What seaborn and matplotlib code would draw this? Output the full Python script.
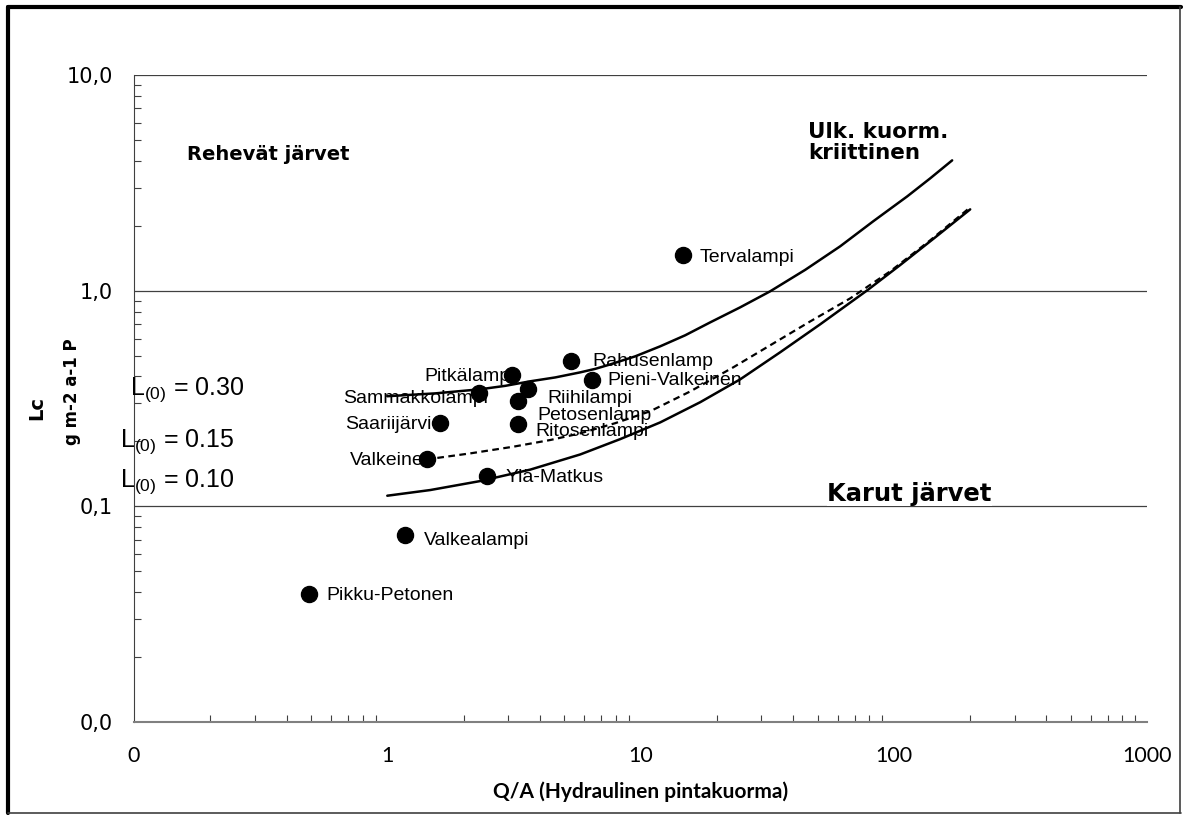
import matplotlib
matplotlib.use("Agg")
import matplotlib.pyplot as plt
import matplotlib.ticker as mticker
from matplotlib.lines import Line2D
import seaborn as sns
import pandas as pd

# lake observations
lakes = ["Tervalampi", "Rahusenlamp", "Pieni-Valkeinen", "Pitkälampi", "Sammakkolampi",
         "Riihilampi", "Petosenlamp", "Ritosenlampi", "Saariijärvi", "Valkeinen",
         "Ylä-Matkus", "Valkealampi", "Pikku-Petonen"]
qa = [14.7, 5.33, 6.45, 3.12, 2.31, 3.60, 3.29, 3.29, 1.62, 1.43, 2.48, 1.18, 0.492]
lc = [1.46, 0.47, 0.384, 0.405, 0.334, 0.349, 0.307, 0.240, 0.243, 0.165, 0.138, 0.0733, 0.0391]

# critical loading curves
curve_qa_030 = [1.0, 1.547, 2.33, 2.924, 3.67, 4.606, 5.78, 6.63, 7.59, 9.53, 11.96, 15.01,
                18.85, 24.75, 32.5, 44.7, 61.4, 82.9, 113, 139.2, 170]
curve_lc_030 = [0.324, 0.334, 0.349, 0.362, 0.380, 0.396, 0.418, 0.434, 0.455, 0.496, 0.552,
                0.621, 0.713, 0.837, 0.993, 1.249, 1.605, 2.096, 2.736, 3.316, 4.019]
curve_qa_015 = [1.426, 2.127, 3.145, 4.401, 5.78, 7.945, 10.92, 15.71, 23.23, 32.5, 46.77,
                67.29, 96.8, 139.2, 200.3]
curve_lc_015 = [0.165, 0.176, 0.189, 0.203, 0.218, 0.243, 0.276, 0.341, 0.441, 0.558, 0.720,
                0.921, 1.229, 1.711, 2.433]
curve_qa_010 = [1.0, 1.478, 2.33, 3.67, 5.78, 8.317, 11.96, 17.21, 24.75, 35.6, 51.2, 78.5,
                105.6, 145.7, 200.3]
curve_lc_010 = [0.112, 0.119, 0.131, 0.148, 0.174, 0.205, 0.245, 0.304, 0.388, 0.518, 0.698,
                1.003, 1.310, 1.766, 2.382]

x_ticks = [0.1, 1, 10, 100, 1000]
x_ticklabels = ["0", "1", "10", "100", "1000"]
y_ticks = [0.01, 0.1, 1, 10]
y_ticklabels = ["0,0", "0,1", "1,0", "10,0"]

sns.set_style("white")
plt.rcParams["font.family"] = ["DejaVu Sans"]
plt.rcParams["text.color"] = "black"
plt.rcParams["axes.labelcolor"] = "black"
plt.rcParams["xtick.color"] = "black"
plt.rcParams["ytick.color"] = "black"
plt.rcParams["mathtext.fontset"] = "custom"
plt.rcParams["mathtext.rm"] = "Liberation Sans"
plt.rcParams["mathtext.default"] = "regular"

fig = plt.figure(figsize=(11.83, 8.15), dpi=100)
ax = fig.add_axes([0.1133, 0.1141, 0.9696 - 0.1133, 0.908 - 0.1141])
ax.set_xscale("log")
ax.set_yscale("log")
ax.set_xlim(0.1, 1000)
ax.set_ylim(0.01, 10)

for yv in y_ticks:
    ax.axhline(yv, color="#404040", lw=0.9, zorder=0)

df = pd.DataFrame({"lake": lakes, "qa": qa, "lc": lc})
c030 = pd.DataFrame({"qa": curve_qa_030, "lc": curve_lc_030})
c015 = pd.DataFrame({"qa": curve_qa_015, "lc": curve_lc_015})
c010 = pd.DataFrame({"qa": curve_qa_010, "lc": curve_lc_010})

sns.lineplot(data=c030, x="qa", y="lc", ax=ax, color="black", lw=1.8, sort=False, estimator=None)
sns.lineplot(data=c010, x="qa", y="lc", ax=ax, color="black", lw=1.8, sort=False, estimator=None)
sns.lineplot(data=c015, x="qa", y="lc", ax=ax, color="black", lw=1.6, sort=False, estimator=None,
             linestyle=(0, (3, 2)))
sns.scatterplot(data=df, x="qa", y="lc", ax=ax, color="black", s=135, edgecolor="black", zorder=5)

# label offsets in points (dx, dy, ha)
offsets = {
    "Tervalampi": (12, -2, "left"),
    "Rahusenlamp": (15, 0, "left"),
    "Pieni-Valkeinen": (11, 0, "left"),
    "Pitkälampi": (2, -1, "right"),
    "Sammakkolampi": (6, -4, "right"),
    "Riihilampi": (14, -7, "left"),
    "Petosenlamp": (14, -10, "left"),
    "Ritosenlampi": (12, -5, "left"),
    "Saariijärvi": (-6, -1, "right"),
    "Valkeinen": (6, -1, "right"),
    "Ylä-Matkus": (13, -1, "left"),
    "Valkealampi": (13, -4, "left"),
    "Pikku-Petonen": (12, -1, "left"),
}
for name, x, y in zip(lakes, qa, lc):
    dx, dy, ha = offsets[name]
    ax.annotate(name, (x, y), xytext=(dx, dy), textcoords="offset points",
                ha=ha, va="center", fontsize=14, family="Liberation Sans", zorder=4)

ax.set_xticks(x_ticks)
ax.set_xticklabels(x_ticklabels, family="Lato", fontsize=15.5)
ax.set_yticks(y_ticks)
ax.set_yticklabels(y_ticklabels, fontsize=15)
ax.xaxis.set_minor_locator(mticker.LogLocator(base=10, subs=range(2, 10)))
ax.yaxis.set_minor_locator(mticker.LogLocator(base=10, subs=range(2, 10)))
ax.xaxis.set_minor_formatter(mticker.NullFormatter())
ax.yaxis.set_minor_formatter(mticker.NullFormatter())
ax.tick_params(which="major", direction="inout", length=9, width=1, color="#404040")
ax.tick_params(which="minor", direction="in", length=5, width=0.8, color="#404040",
               left=True, bottom=True)
ax.tick_params(axis="x", which="major", pad=13)
ax.tick_params(axis="y", which="major", pad=10.5)

for side in ["top", "right"]:
    ax.spines[side].set_visible(False)
ax.spines["left"].set_color("#404040")
ax.spines["bottom"].set_color("#808080")
ax.spines["bottom"].set_linewidth(1.5)

ax.set_xlabel("Q/A (Hydraulinen pintakuorma)", family="Lato", fontsize=15, fontweight="bold",
              labelpad=11)
ax.set_ylabel("")
fig.text(0.031, 0.50, "Lc", rotation=90, fontsize=14, fontweight="bold", ha="center", va="center")
fig.text(0.061, 0.519, "g m-2 a-1 P", rotation=90, fontsize=12, fontweight="bold",
         ha="center", va="center")

ax.text(0.339, 4.29, "Rehevät järvet", fontsize=14, fontweight="bold", ha="center", va="center")
ax.text(45.9, 4.87, "Ulk. kuorm.\nkriittinen", fontsize=15.5, fontweight="bold", ha="left",
        va="center", linespacing=1.1)
ax.text(54.6, 0.1, "Karut järvet", fontsize=17.5, fontweight="bold", ha="left", va="bottom",
        bbox=dict(facecolor="white", edgecolor="none", pad=0))

ax.text(0.0967, 0.349, r"L$_{(0)}$ = 0.30", fontsize=18, family="Liberation Sans",
        ha="left", va="center", clip_on=False)
ax.text(0.0883, 0.200, r"L$_{(0)}$ = 0.15", fontsize=18, family="Liberation Sans",
        ha="left", va="center", clip_on=False)
ax.text(0.0883, 0.130, r"L$_{(0)}$ = 0.10", fontsize=18, family="Liberation Sans",
        ha="left", va="center", clip_on=False)

# outer frame
fig.add_artist(Line2D([0.0065, 0.0065], [0.002, 0.992], color="black", lw=3, transform=fig.transFigure))
fig.add_artist(Line2D([0.0065, 0.998], [0.991, 0.991], color="black", lw=3, transform=fig.transFigure))
fig.add_artist(Line2D([0.0065, 0.998], [0.0025, 0.0025], color="#404040", lw=1.2, transform=fig.transFigure))
fig.add_artist(Line2D([0.9975, 0.9975], [0.002, 0.992], color="#404040", lw=1.2, transform=fig.transFigure))

fig.savefig("out.png", dpi=100)
